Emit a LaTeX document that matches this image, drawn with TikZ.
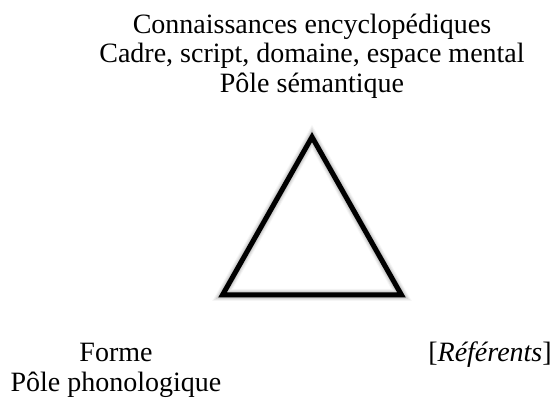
\documentclass[tikz,border=0pt]{standalone}
\usepackage{fontspec}
\setmainfont{Liberation Serif}
\usetikzlibrary{calc,positioning}

\begin{document}
\begin{tikzpicture}[line join=miter, line cap=butt,x=1pt,y=-1pt]
\tikzset{every node/.style={inner sep=0pt,align=center,font=\fontsize{28}{29.7}\selectfont},
pole/.style={anchor=base}}
\useasboundingbox (0,0) rectangle (560,398);
\coordinate (apex) at (312,137);
\coordinate (gauche) at (222.5,295);
\coordinate (droite) at (401.5,295);
\foreach \w/\o in {12/0.08,10/0.12,8/0.16,6/0.2}
\draw[gray,opacity=\o,line width=\w pt,yshift=-6pt] (apex)--(gauche)--(droite)--cycle;
\draw[line width=5pt] (apex)--(gauche)--(droite)--cycle;
\node[pole] (semantique) at (312,92.5) {Connaissances encyclopédiques\\Cadre, script, domaine, espace mental\\Pôle sémantique};
\node[pole] (phono) at (116,391.5) {Forme\\Pôle phonologique};
\node[pole] (referents) at (490,361) {[\textit{Référents}]};
\end{tikzpicture}
\end{document}
